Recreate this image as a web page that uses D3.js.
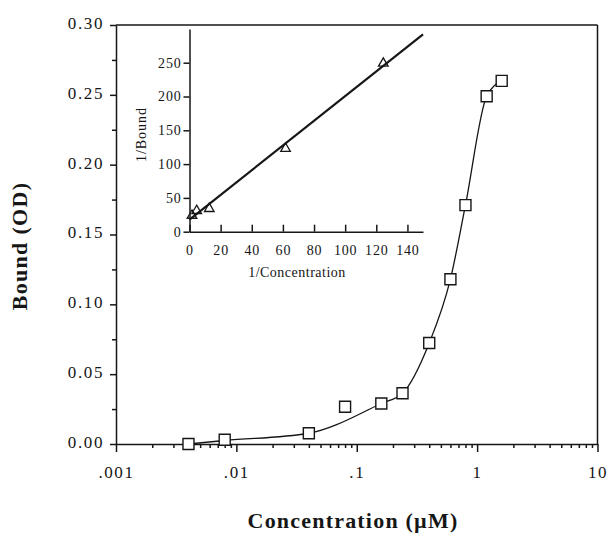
<!DOCTYPE html>
<html><head><meta charset="utf-8">
<script src="https://cdn.jsdelivr.net/npm/d3@7"></script>
<style>
html,body{margin:0;padding:0;background:#fff;}
svg{display:block;}
</style></head>
<body>
<svg id="chart" width="609" height="533"></svg>
<script>
// ---- Main chart data (Concentration in µM vs Bound OD) ----
const concentration = [0.004, 0.008, 0.04, 0.08, 0.16, 0.24, 0.4, 0.6, 0.8, 1.2, 1.6];
const bound         = [0.000, 0.003, 0.0077, 0.0267, 0.029, 0.0363, 0.0723, 0.118, 0.171, 0.249, 0.260];
// fitted curve (passes through all points except the 0.08 outlier)
const fitConc  = [0.004, 0.008, 0.04, 0.16, 0.24, 0.4, 0.6, 0.8, 1.2, 1.6];
const fitBound = [0.000, 0.0025, 0.0077, 0.029, 0.0363, 0.0723, 0.118, 0.171, 0.249, 0.260];
const xTickValues = [0.001, 0.01, 0.1, 1, 10];
const xTickLabels = [".001", ".01", ".1", "1", "10"];
const yTickValues = [0, 0.05, 0.10, 0.15, 0.20, 0.25, 0.30];
const yTickLabels = ["0.00", "0.05", "0.10", "0.15", "0.20", "0.25", "0.30"];
const yMinorValues = [0.025, 0.075, 0.125, 0.175, 0.225, 0.275];

// ---- Inset (double reciprocal) data ----
const invConc  = [1.6, 4.6, 12.7, 61.7, 124.5];
const invBound = [24, 31, 34, 123, 249];
const regX = [0, 150];
const regY = [18, 292];
const insetXTicks = [0, 20, 40, 60, 80, 100, 120, 140];
const insetYTicks = [0, 50, 100, 150, 200, 250];

const ink = "#161616";
const serif = "'Liberation Serif','Times New Roman',serif";
const svg = d3.select("#chart");

// ---- Main scales ----
const x = d3.scaleLog().domain([0.001, 10]).range([116, 597.5]);
const y = d3.scaleLinear().domain([0, 0.30]).range([444, 25]);

function styleAxis(g, size, spacing) {
  g.selectAll("path, line").attr("stroke", ink).attr("stroke-width", 1.5);
  g.selectAll("text").attr("fill", ink).style("font-family", serif)
    .style("font-size", size + "px").style("letter-spacing", spacing + "px");
  g.attr("font-family", null).attr("font-size", null);
}

// frame top and right
svg.append("line").attr("x1", x.range()[0]).attr("x2", x.range()[1])
  .attr("y1", y(0.30)).attr("y2", y(0.30)).attr("stroke", ink).attr("stroke-width", 1.5);
svg.append("line").attr("x1", x.range()[1]).attr("x2", x.range()[1])
  .attr("y1", y(0.30)).attr("y2", y(0)).attr("stroke", ink).attr("stroke-width", 1.5);

// y axis
const yAxis = svg.append("g").attr("transform", `translate(${x.range()[0]},0)`)
  .call(d3.axisLeft(y).tickValues(yTickValues).tickSize(6).tickSizeOuter(0).tickPadding(6)
    .tickFormat((d, i) => yTickLabels[i]));
styleAxis(yAxis, 17, 1.6);
yAxis.selectAll("text").attr("dy", "0.2em");
const yMinor = svg.append("g").attr("transform", `translate(${x.range()[0]},0)`)
  .call(d3.axisLeft(y).tickValues(yMinorValues).tickSize(4).tickSizeOuter(0).tickFormat(""));
yMinor.select(".domain").remove();
styleAxis(yMinor, 17, 0);

// x axis
const xAxis = svg.append("g").attr("transform", `translate(0,${y(0)})`)
  .call(d3.axisBottom(x).tickValues(xTickValues).tickSize(8).tickSizeOuter(0).tickPadding(14)
    .tickFormat((d, i) => xTickLabels[i]));
styleAxis(xAxis, 17, 1.6);
const xMinorVals = [];
xTickValues.slice(0, -1).forEach(d => { for (let k = 2; k <= 9; k++) xMinorVals.push(d * k); });
const xMinor = svg.append("g").attr("transform", `translate(0,${y(0)})`)
  .call(d3.axisBottom(x).tickValues(xMinorVals).tickSize(4).tickSizeOuter(0).tickFormat(""));
xMinor.select(".domain").remove();
styleAxis(xMinor, 17, 0);

// fitted curve
const fitPts = fitConc.map((c, i) => [x(c), y(fitBound[i])]);
svg.append("path")
  .attr("d", d3.line().curve(d3.curveMonotoneX)(fitPts))
  .attr("fill", "none").attr("stroke", ink).attr("stroke-width", 1.3);

// squares
svg.append("g").selectAll("path").data(concentration).join("path")
  .attr("transform", (d, i) => `translate(${x(d)},${y(bound[i])})`)
  .attr("d", d3.symbol(d3.symbolSquare, 121)())
  .attr("fill", "#fff").attr("stroke", ink).attr("stroke-width", 1.4);

// axis titles
svg.append("text").attr("transform", "translate(27,246) rotate(-90)")
  .attr("text-anchor", "middle").attr("fill", ink)
  .style("font-family", serif).style("font-size", "22px").style("font-weight", "bold")
  .style("letter-spacing", "1.3px").text("Bound (OD)");
svg.append("text").attr("x", 353).attr("y", 528)
  .attr("text-anchor", "middle").attr("fill", ink)
  .style("font-family", serif).style("font-size", "22px").style("font-weight", "bold")
  .style("letter-spacing", "1.2px").text("Concentration (\u00B5M)");

// ---- Inset ----
const xi = d3.scaleLinear().domain([0, 150]).range([189.5, 423]);
const yi = d3.scaleLinear().domain([0, 300]).range([231.7, 28.9]);

const yiAxis = svg.append("g").attr("transform", `translate(${xi(0)},0)`)
  .call(d3.axisLeft(yi).tickValues(insetYTicks).tickSize(6).tickSizeOuter(0).tickPadding(2));
styleAxis(yiAxis, 14, 0.8);
const xiAxis = svg.append("g").attr("transform", `translate(0,${yi(0)})`)
  .call(d3.axisBottom(xi).tickValues(insetXTicks).tickSizeInner(-7).tickSizeOuter(0).tickPadding(13));
styleAxis(xiAxis, 14, 0.8);

svg.append("path")
  .attr("d", d3.line()(regX.map((v, i) => [xi(v), yi(regY[i])])))
  .attr("fill", "none").attr("stroke", ink).attr("stroke-width", 2.2);

svg.append("g").selectAll("path").data(invConc).join("path")
  .attr("transform", (d, i) => `translate(${xi(d)},${yi(invBound[i])})`)
  .attr("d", d3.symbol(d3.symbolTriangle, 40)())
  .attr("fill", "none").attr("stroke", ink).attr("stroke-width", 1.3);

svg.append("text").attr("transform", "translate(146,134.5) rotate(-90)")
  .attr("text-anchor", "middle").attr("fill", ink)
  .style("font-family", serif).style("font-size", "14px").style("letter-spacing", "1px")
  .text("1/Bound");
svg.append("text").attr("x", 297).attr("y", 277)
  .attr("text-anchor", "middle").attr("fill", ink)
  .style("font-family", serif).style("font-size", "14px").style("letter-spacing", "0.5px")
  .text("1/Concentration");
</script>
</body></html>
